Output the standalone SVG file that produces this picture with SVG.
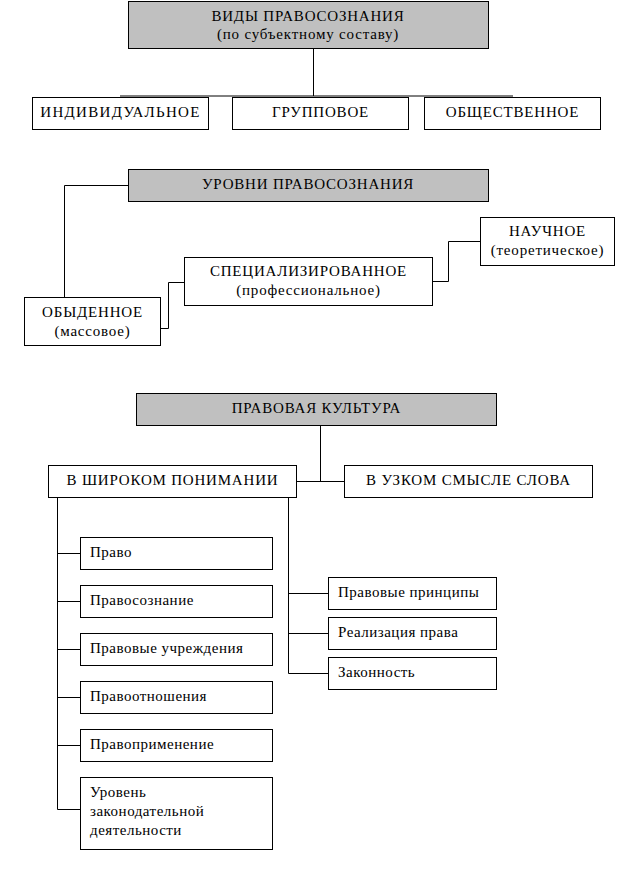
<svg xmlns="http://www.w3.org/2000/svg" width="641" height="874" viewBox="0 0 641 874">
<style>
.box{fill:#fff;stroke:#000;stroke-width:1}
.hdr{fill:#c0c0c0;stroke:#000;stroke-width:1}
.c{text-anchor:middle;letter-spacing:0.8px}
.l{letter-spacing:0.5px}
.ln{fill:none;stroke:#000;stroke-width:1}
</style>
<rect width="641" height="874" fill="#fff"/>
<g id="connectors">
<path class="ln" d="M313.5,48 V96"/>
<path class="ln" d="M120,96 H513" stroke-width="2"/>
<path class="ln" d="M128,185.5 H64.5 V297"/>
<path class="ln" d="M161,328.5 H168.5 V282.5 H184"/>
<path class="ln" d="M432,281.5 H448.5 V241.5 H480"/>
<path class="ln" d="M320.5,425 V481.5"/>
<path class="ln" d="M296,481.5 H344"/>
<path class="ln" d="M57.5,497 V809.5 H80"/>
<path class="ln" d="M57.5,553.5 H80 M57.5,601.5 H80 M57.5,649.5 H80 M57.5,697.5 H80 M57.5,745.5 H80"/>
<path class="ln" d="M288.5,497 V673.5 H328 M288.5,593.5 H328 M288.5,633.5 H328"/>
</g>
<g font-family="'Liberation Serif', Tinos, 'Times New Roman', 'DejaVu Serif', serif" font-size="15" fill="#000">
<g id="n-vidy"><rect class="hdr" x="128.5" y="1.5" width="360" height="47"/><text class="c" x="308" y="21">ВИДЫ ПРАВОСОЗНАНИЯ</text><text class="c" x="308" y="39">(по субъектному составу)</text></g>
<g id="n-indiv"><rect class="box" x="32.5" y="97.5" width="176" height="32"/><text class="c" x="120.5" y="117" style="letter-spacing:1.3px">ИНДИВИДУАЛЬНОЕ</text></g>
<g id="n-grupp"><rect class="box" x="232.5" y="97.5" width="176" height="32"/><text class="c" x="320.5" y="117">ГРУППОВОЕ</text></g>
<g id="n-obsch"><rect class="box" x="424.5" y="97.5" width="176" height="32"/><text class="c" x="512.5" y="117">ОБЩЕСТВЕННОЕ</text></g>
<g id="n-urovni"><rect class="hdr" x="128.5" y="169.5" width="360" height="32"/><text class="c" x="308" y="189">УРОВНИ ПРАВОСОЗНАНИЯ</text></g>
<g id="n-obyd"><rect class="box" x="24.5" y="297.5" width="136" height="48"/><text class="c" x="92.5" y="317">ОБЫДЕННОЕ</text><text class="c" x="92.5" y="336">(массовое)</text></g>
<g id="n-spec"><rect class="box" x="184.5" y="257.5" width="248" height="48"/><text class="c" x="308.5" y="276">СПЕЦИАЛИЗИРОВАННОЕ</text><text class="c" x="308.5" y="295">(профессиональное)</text></g>
<g id="n-nauch"><rect class="box" x="480.5" y="217.5" width="134" height="48"/><text class="c" x="547.5" y="236">НАУЧНОЕ</text><text class="c" x="547.5" y="255">(теоретическое)</text></g>
<g id="n-kult"><rect class="hdr" x="136.5" y="393.5" width="360" height="32"/><text class="c" x="316.5" y="413">ПРАВОВАЯ КУЛЬТУРА</text></g>
<g id="n-shir"><rect class="box" x="48.5" y="465.5" width="248" height="32"/><text class="c" x="172.5" y="485">В ШИРОКОМ ПОНИМАНИИ</text></g>
<g id="n-uzk"><rect class="box" x="344.5" y="465.5" width="248" height="32"/><text class="c" x="468.5" y="485">В УЗКОМ СМЫСЛЕ СЛОВА</text></g>
<g id="n-pravo"><rect class="box" x="80.5" y="537.5" width="192" height="32"/><text class="l" x="90" y="557">Право</text></g>
<g id="n-pravosozn"><rect class="box" x="80.5" y="585.5" width="192" height="32"/><text class="l" x="90" y="605">Правосознание</text></g>
<g id="n-uchr"><rect class="box" x="80.5" y="633.5" width="192" height="32"/><text class="l" x="90" y="653">Правовые учреждения</text></g>
<g id="n-otnosh"><rect class="box" x="80.5" y="681.5" width="192" height="32"/><text class="l" x="90" y="701">Правоотношения</text></g>
<g id="n-primen"><rect class="box" x="80.5" y="729.5" width="192" height="32"/><text class="l" x="90" y="749">Правоприменение</text></g>
<g id="n-uroven"><rect class="box" x="80.5" y="777.5" width="192" height="72"/><text class="l" x="90" y="797">Уровень</text><text class="l" x="90" y="816">законодательной</text><text class="l" x="90" y="835">деятельности</text></g>
<g id="n-princ"><rect class="box" x="328.5" y="577.5" width="168" height="32"/><text class="l" x="338" y="597">Правовые принципы</text></g>
<g id="n-real"><rect class="box" x="328.5" y="617.5" width="168" height="32"/><text class="l" x="338" y="637">Реализация права</text></g>
<g id="n-zakon"><rect class="box" x="328.5" y="657.5" width="168" height="32"/><text class="l" x="338" y="677">Законность</text></g>
</g>
</svg>
